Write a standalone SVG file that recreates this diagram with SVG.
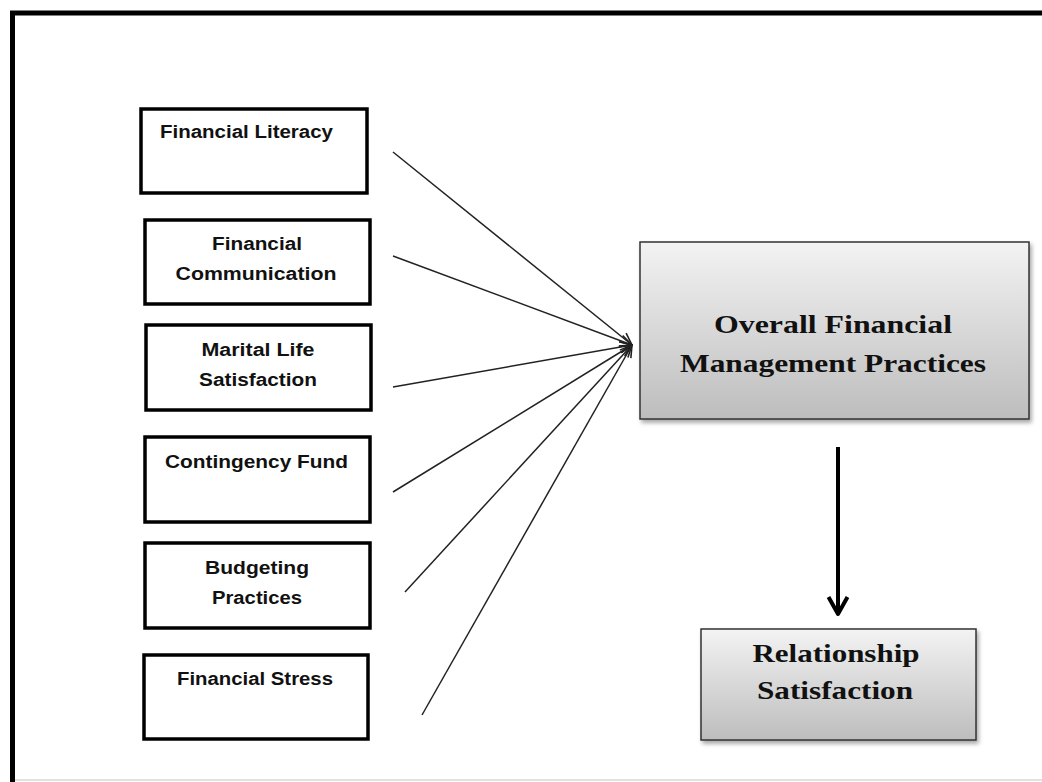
<svg xmlns="http://www.w3.org/2000/svg" width="1042" height="782" viewBox="0 0 1042 782">
<defs>
<linearGradient id="g" x1="0" y1="0" x2="0" y2="1">
<stop offset="0" stop-color="#f3f3f3"/>
<stop offset="1" stop-color="#bdbdbd"/>
</linearGradient>
<filter id="sh" x="-5%" y="-5%" width="112%" height="115%">
<feDropShadow dx="2" dy="3" stdDeviation="2" flood-color="#000" flood-opacity="0.35"/>
</filter>
<marker id="a" viewBox="0 0 14 14" refX="13" refY="7" markerWidth="14" markerHeight="14" markerUnits="userSpaceOnUse" orient="auto">
<path d="M1,1.5 L13,7 L1,12.5" fill="none" stroke="#222" stroke-width="1.6"/>
</marker>
<marker id="b" viewBox="0 0 24 24" refX="21" refY="12" markerWidth="24" markerHeight="24" markerUnits="userSpaceOnUse" orient="auto">
<path d="M4,2.5 L21,12 L4,21.5" fill="none" stroke="#000" stroke-width="4" stroke-linejoin="round"/>
</marker>
</defs>
<style>
.in{fill:#fff;stroke:#000;stroke-width:3.5}
.out{fill:url(#g);stroke:#333;stroke-width:1.5;filter:url(#sh)}
.t{font-family:"Liberation Sans",Arial,sans-serif;font-weight:bold;font-size:18px;fill:#111}
.s{font-family:"Liberation Serif","Times New Roman",serif;font-weight:bold;font-size:26px;fill:#111}
.c{stroke:#222;stroke-width:1.5;fill:none;marker-end:url(#a)}
</style>
<rect width="1042" height="782" fill="#fff"/>
<g id="frame">
<line x1="10" y1="13" x2="1042" y2="13" stroke="#000" stroke-width="5"/>
<line x1="12.5" y1="11" x2="12.5" y2="782" stroke="#000" stroke-width="5"/>
<line x1="15" y1="780" x2="1042" y2="780" stroke="#e2e2e2" stroke-width="2"/>
</g>
<g id="connectors">
<line class="c" x1="393" y1="152" x2="632" y2="345"/>
<line class="c" x1="393" y1="256" x2="632" y2="345"/>
<line class="c" x1="393" y1="387" x2="632" y2="345"/>
<line class="c" x1="393" y1="492" x2="632" y2="345"/>
<line class="c" x1="405" y1="592" x2="632" y2="345"/>
<line class="c" x1="422" y1="715" x2="632" y2="345"/>
<line x1="838" y1="447" x2="838" y2="614" stroke="#000" stroke-width="4" marker-end="url(#b)"/>
</g>
<g id="financial-literacy">
<rect class="in" x="141" y="109" width="226" height="84"/>
<text class="t" x="160" y="138" textLength="173" lengthAdjust="spacingAndGlyphs">Financial Literacy</text>
</g>
<g id="financial-communication">
<rect class="in" x="145" y="220" width="225" height="84"/>
<text class="t" x="257" y="250" text-anchor="middle" textLength="90" lengthAdjust="spacingAndGlyphs">Financial</text>
<text class="t" x="256" y="280" text-anchor="middle" textLength="161" lengthAdjust="spacingAndGlyphs">Communication</text>
</g>
<g id="marital-life-satisfaction">
<rect class="in" x="146" y="325" width="225" height="85"/>
<text class="t" x="258" y="356" text-anchor="middle" textLength="113" lengthAdjust="spacingAndGlyphs">Marital Life</text>
<text class="t" x="258" y="386" text-anchor="middle" textLength="118" lengthAdjust="spacingAndGlyphs">Satisfaction</text>
</g>
<g id="contingency-fund">
<rect class="in" x="145" y="437" width="225" height="85"/>
<text class="t" x="165" y="468" textLength="183" lengthAdjust="spacingAndGlyphs">Contingency Fund</text>
</g>
<g id="budgeting-practices">
<rect class="in" x="145" y="543" width="225" height="85"/>
<text class="t" x="257" y="574" text-anchor="middle" textLength="104" lengthAdjust="spacingAndGlyphs">Budgeting</text>
<text class="t" x="257" y="604" text-anchor="middle" textLength="90" lengthAdjust="spacingAndGlyphs">Practices</text>
</g>
<g id="financial-stress">
<rect class="in" x="144" y="655" width="224" height="84"/>
<text class="t" x="177" y="685" textLength="156" lengthAdjust="spacingAndGlyphs">Financial Stress</text>
</g>
<g id="overall-financial-management-practices">
<rect class="out" x="640" y="242" width="389" height="177"/>
<text class="s" x="833" y="333" text-anchor="middle" textLength="238" lengthAdjust="spacingAndGlyphs">Overall Financial</text>
<text class="s" x="833" y="372" text-anchor="middle" textLength="306" lengthAdjust="spacingAndGlyphs">Management Practices</text>
</g>
<g id="relationship-satisfaction">
<rect class="out" x="701" y="629" width="275" height="111"/>
<text class="s" x="836" y="662" text-anchor="middle" textLength="167" lengthAdjust="spacingAndGlyphs">Relationship</text>
<text class="s" x="835" y="699" text-anchor="middle" textLength="156" lengthAdjust="spacingAndGlyphs">Satisfaction</text>
</g>
</svg>
